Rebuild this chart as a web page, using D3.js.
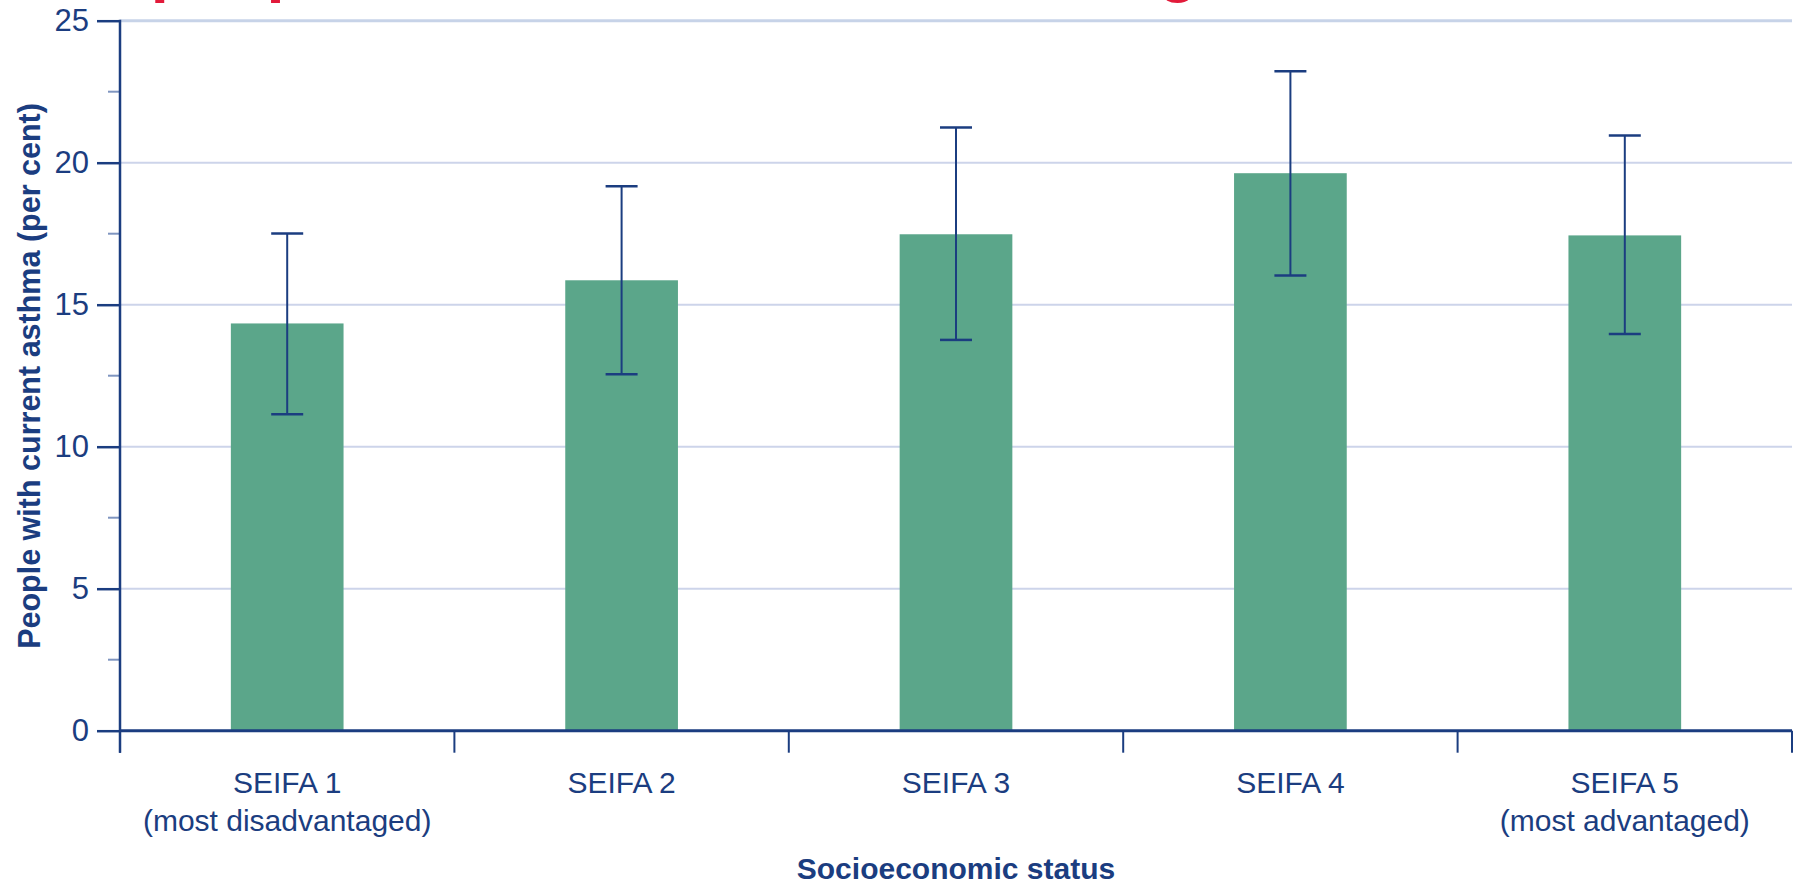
<!DOCTYPE html>
<html>
<head>
<meta charset="utf-8">
<script src="https://cdn.jsdelivr.net/npm/d3@7/dist/d3.min.js"></script>
<style>
  html, body { margin: 0; padding: 0; background: #ffffff; }
  svg { display: block; font-family: "Liberation Sans", Arial, sans-serif; }
</style>
</head>
<body>
<svg id="chart" width="1800" height="886"></svg>
<script>
const categories = ["SEIFA 1", "SEIFA 2", "SEIFA 3", "SEIFA 4", "SEIFA 5"];
const subLabels = ["(most disadvantaged)", "", "", "", "(most advantaged)"];
const values = [14.34, 15.86, 17.48, 19.63, 17.44];
const lowerCI = [11.14, 12.55, 13.76, 16.03, 13.97];
const upperCI = [17.51, 19.17, 21.24, 23.22, 20.96];
const yTicks = [0, 5, 10, 15, 20, 25];
const yMinorTicks = [2.5, 7.5, 12.5, 17.5, 22.5];
const titleText = "% people with current asthma, all ages, 2017\u201318, Australia";
const yTitle = "People with current asthma (per cent)";
const xTitle = "Socioeconomic status";

(function () {
const navy = "#1b3d80";
const green = "#5ba68a";
const grid = "#cdd4ea";
const red = "#e21a3a";

const svg = d3.select("#chart");
const mLeft = 120, mRight = 1792, mTop = 20.7, mBottom = 730.7;

const x = d3.scaleBand().domain(categories).range([mLeft, mRight]).padding(0);
const y = d3.scaleLinear().domain([0, 25]).range([mBottom, mTop]);
const barW = x.bandwidth() * 0.337;
const capW = 32;

// cropped red title (only descenders visible, as in the reference)
svg.append("text")
  .attr("x", 75).attr("y", -10)
  .attr("fill", red)
  .attr("font-size", 65).attr("font-weight", "bold")
  .text(titleText);

// gridlines
svg.append("g").selectAll("line").data(yTicks.filter(d => d > 0)).join("line")
  .attr("x1", mLeft).attr("x2", mRight)
  .attr("y1", d => y(d)).attr("y2", d => y(d))
  .attr("stroke", d => d === 25 ? "#c7d3e8" : grid)
  .attr("stroke-width", d => d === 25 ? 3 : 2);

// bars
svg.append("g").selectAll("rect").data(categories).join("rect")
  .attr("x", d => x(d) + x.bandwidth() / 2 - barW / 2)
  .attr("width", barW)
  .attr("y", (d, i) => y(values[i]))
  .attr("height", (d, i) => y(0) - y(values[i]))
  .attr("fill", green);

// error bars
const eb = svg.append("g").attr("stroke", navy).attr("stroke-width", 2);
categories.forEach((c, i) => {
  const cx = x(c) + x.bandwidth() / 2;
  eb.append("line").attr("x1", cx).attr("x2", cx).attr("y1", y(upperCI[i])).attr("y2", y(lowerCI[i]));
  eb.append("line").attr("x1", cx - capW / 2).attr("x2", cx + capW / 2).attr("y1", y(upperCI[i])).attr("y2", y(upperCI[i])).attr("stroke-width", 2.5);
  eb.append("line").attr("x1", cx - capW / 2).attr("x2", cx + capW / 2).attr("y1", y(lowerCI[i])).attr("y2", y(lowerCI[i])).attr("stroke-width", 2.5);
});

// y axis
const yAxis = d3.axisLeft(y).tickValues(yTicks).tickSize(23).tickPadding(8).tickFormat(d3.format("d"));
const yg = svg.append("g").attr("transform", `translate(${mLeft},0)`).call(yAxis);
yg.select(".domain").remove();
yg.selectAll(".tick line").attr("stroke", navy).attr("stroke-width", 2.5);
yg.selectAll(".tick text").attr("fill", navy).attr("font-size", 31)
  .attr("font-family", "'Liberation Sans', Arial, sans-serif");
// minor ticks
svg.append("g").selectAll("line").data(yMinorTicks).join("line")
  .attr("x1", mLeft - 12).attr("x2", mLeft)
  .attr("y1", d => y(d)).attr("y2", d => y(d))
  .attr("stroke", "#7f95c0").attr("stroke-width", 2);
// y axis line extends below x axis
svg.append("line").attr("x1", mLeft).attr("x2", mLeft)
  .attr("y1", y(25) - 1).attr("y2", mBottom + 22)
  .attr("stroke", navy).attr("stroke-width", 2.5);

// x axis line
svg.append("line").attr("x1", mLeft).attr("x2", mRight)
  .attr("y1", mBottom).attr("y2", mBottom)
  .attr("stroke", navy).attr("stroke-width", 3);
// category boundary ticks
const boundaries = categories.map(c => x(c)).concat([x(categories[categories.length - 1]) + x.bandwidth()]);
svg.append("g").selectAll("line").data(boundaries).join("line")
  .attr("x1", d => d).attr("x2", d => d)
  .attr("y1", mBottom).attr("y2", mBottom + 22)
  .attr("stroke", navy).attr("stroke-width", 2);

// x labels
const xl = svg.append("g").attr("fill", navy).attr("font-size", 30).attr("text-anchor", "middle");
categories.forEach((c, i) => {
  const cx = x(c) + x.bandwidth() / 2;
  xl.append("text").attr("x", cx).attr("y", 793).text(c);
  if (subLabels[i]) xl.append("text").attr("x", cx).attr("y", 831).text(subLabels[i]);
});

// axis titles
svg.append("text").attr("x", (mLeft + mRight) / 2).attr("y", 879)
  .attr("text-anchor", "middle").attr("font-weight", "bold").attr("font-size", 30)
  .attr("fill", navy).text(xTitle);
svg.append("text").attr("transform", "translate(40,376) rotate(-90)")
  .attr("text-anchor", "middle").attr("font-weight", "bold").attr("font-size", 30.5)
  .attr("fill", navy).text(yTitle);
})();
</script>
</body>
</html>
